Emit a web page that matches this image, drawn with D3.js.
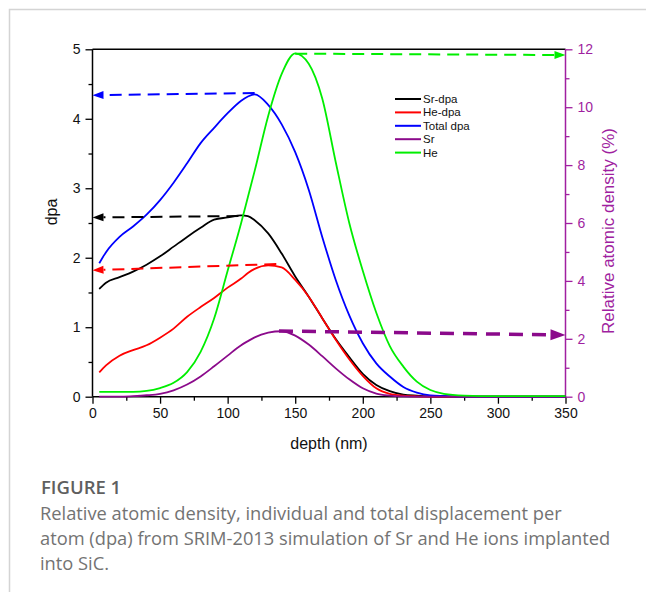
<!DOCTYPE html>
<html>
<head>
<meta charset="utf-8">
<script src="https://cdn.jsdelivr.net/npm/d3@7"></script>
<style>
  html, body { margin: 0; padding: 0; background: #fff; }
  svg { display: block; }
</style>
</head>
<body>
<svg id="chart" width="646" height="592"></svg>
<script>
// ---------- data ----------
const depth = [5,10,20,30,40,50,60,70,80,90,100,110,115,120,130,140,150,160,170,180,190,200,210,220,230,240,250,260,275,300,325,350];
const srDpa  = [1.55,1.64,1.72,1.80,1.90,2.02,2.16,2.30,2.43,2.55,2.58,2.61,2.60,2.54,2.35,2.06,1.73,1.44,1.13,0.83,0.57,0.33,0.17,0.08,0.03,0.015,0.005,0,0,0,0,0];
const heDpa  = [0.35,0.45,0.59,0.67,0.74,0.85,0.98,1.15,1.29,1.42,1.57,1.70,1.78,1.84,1.89,1.86,1.68,1.44,1.13,0.82,0.54,0.30,0.12,0.04,0.015,0.005,0,0,0,0,0,0];
const totDpa = [1.92,2.08,2.30,2.45,2.62,2.83,3.08,3.36,3.65,3.87,4.08,4.26,4.32,4.35,4.20,3.92,3.52,2.98,2.30,1.68,1.17,0.77,0.48,0.29,0.14,0.06,0.02,0.01,0,0,0,0];
const srPct  = [0,0,0,0.02,0.05,0.10,0.22,0.42,0.70,1.05,1.42,1.78,1.92,2.05,2.21,2.26,2.11,1.80,1.40,0.98,0.60,0.29,0.11,0.04,0.01,0,0,0,0,0,0,0];
const hePct  = [0.17,0.17,0.17,0.17,0.20,0.30,0.48,0.85,1.55,2.70,4.35,6.00,6.90,7.80,9.70,11.15,11.86,11.50,10.30,8.10,6.00,4.35,2.90,1.75,1.04,0.52,0.23,0.10,0.04,0.02,0.02,0.02];

const seriesNames = ["Sr-dpa","He-dpa","Total dpa","Sr","He"];
const seriesAxis  = ["left","left","left","right","right"];
const seriesVals  = [srDpa, heDpa, totDpa, srPct, hePct];

// dashed arrows: [fromDepth, fromValue, toDepth, toValue]
const arrowNames = ["Total dpa","Sr-dpa","He-dpa","Sr","He"];
const arrowFrom  = [[120,4.37],[108,2.60],[136,1.91],[138,2.27],[150,11.85]];
const arrowTo    = [[0,4.34],[0,2.58],[0,1.82],[350,2.13],[350,11.80]];

const xTicks = [0,50,100,150,200,250,300,350];
const yLeftTicks = [0,1,2,3,4,5];
const yRightTicks = [0,2,4,6,8,10,12];

// ---------- styles ----------
const colors = {"Sr-dpa":"#000000","He-dpa":"#ff0000","Total dpa":"#0000ff","Sr":"#8b0a8b","He":"#00ee00"};
const rightColor = "#a01fa0";
const svg = d3.select("#chart");

// card border
svg.append("path").attr("d","M9.5,592 L9.5,9.5 L646,9.5").attr("fill","none").attr("stroke","#d4d4d4").attr("stroke-width",1.5);

const L = 92.5, R = 565.5, T = 49.3, B = 396.7;
const x = d3.scaleLinear().domain([0,350]).range([L,R]);
const yL = d3.scaleLinear().domain([0,5]).range([B,T]);
const yR = d3.scaleLinear().domain([0,12]).range([B,T]);

const font = "'Liberation Sans', Arial, sans-serif";

// top frame
svg.append("line").attr("x1",L).attr("x2",R).attr("y1",T).attr("y2",T).attr("stroke","#000").attr("stroke-width",1.5);

// x axis
const gx = svg.append("g").attr("transform",`translate(0,${B})`)
  .call(d3.axisBottom(x).tickValues(xTicks).tickSize(7).tickPadding(4).tickFormat(d3.format("d")));
svg.append("g").attr("transform",`translate(0,${B})`)
  .call(d3.axisBottom(x).tickValues(d3.range(25,350,50)).tickSize(4).tickFormat(""))
  .call(g=>g.select(".domain").remove());
// left axis
const gy = svg.append("g").attr("transform",`translate(${L},0)`)
  .call(d3.axisLeft(yL).tickValues(yLeftTicks).tickSize(7).tickPadding(5).tickFormat(d3.format("d")));
svg.append("g").attr("transform",`translate(${L},0)`)
  .call(d3.axisLeft(yL).tickValues([0.5,1.5,2.5,3.5,4.5]).tickSize(4).tickFormat(""))
  .call(g=>g.select(".domain").remove());
// right axis
const gr = svg.append("g").attr("transform",`translate(${R},0)`)
  .call(d3.axisRight(yR).tickValues(yRightTicks).tickSize(7).tickPadding(5).tickFormat(d3.format("d")));
const grm = svg.append("g").attr("transform",`translate(${R},0)`)
  .call(d3.axisRight(yR).tickValues([1,3,5,7,9,11]).tickSize(4).tickFormat(""))
  .call(g=>g.select(".domain").remove());

svg.selectAll(".domain").attr("stroke-width",1.5);
svg.selectAll(".tick line").attr("stroke-width",1.3);
svg.selectAll(".tick text").attr("font-family",font).attr("font-size",14).attr("fill","#111");
[gx,gy].forEach(g=>g.selectAll(".domain, .tick line").attr("stroke","#000"));
gy.select(".domain").attr("d",`M0,${B}V${T}`);
gx.select(".domain").attr("d",`M${L},0H${R}`);
gr.select(".domain").attr("d",`M0,${B}V${T}`);
gr.selectAll(".domain, .tick line").attr("stroke",rightColor);
grm.selectAll(".tick line").attr("stroke",rightColor);
gr.selectAll(".tick text").attr("fill",rightColor);

// axis titles
svg.append("text").attr("x",(L+R)/2).attr("y",449).attr("text-anchor","middle")
  .attr("font-family",font).attr("font-size",16).attr("fill","#111").text("depth (nm)");
svg.append("text").attr("transform",`translate(57,${(T+B)/2-11}) rotate(-90)`).attr("text-anchor","middle")
  .attr("font-family",font).attr("font-size",16).attr("fill","#111").text("dpa");
svg.append("text").attr("transform",`translate(614,${(T+B)/2+8}) rotate(-90)`).attr("text-anchor","middle")
  .attr("font-family",font).attr("font-size",17).attr("fill",rightColor).text("Relative atomic density (%)");

// curves
seriesNames.forEach((name,i)=>{
  const ys = seriesAxis[i]==="left" ? yL : yR;
  const line = d3.line().x(d=>x(d[0])).y(d=>ys(d[1])).curve(d3.curveMonotoneX);
  const pts = depth.map((d,j)=>[d,seriesVals[i][j]]);
  svg.append("path").attr("d",line(pts)).attr("fill","none")
    .attr("stroke",colors[name]).attr("stroke-width",1.8).attr("stroke-linejoin","round");
});

// dashed arrows
arrowNames.forEach((name,i)=>{
  const ys = seriesAxis[seriesNames.indexOf(name)]==="left" ? yL : yR;
  const x1 = x(arrowFrom[i][0]), y1 = ys(arrowFrom[i][1]);
  const x2 = x(arrowTo[i][0]), y2 = ys(arrowTo[i][1]);
  const big = name==="Sr";
  const hl = big ? 15 : 11, hw = big ? 5.5 : 4;
  const ang = Math.atan2(y2-y1, x2-x1);
  const bx = x2 - hl*Math.cos(ang), by = y2 - hl*Math.sin(ang);
  svg.append("line").attr("x1",x1).attr("y1",y1).attr("x2",bx).attr("y2",by)
    .attr("stroke",colors[name]).attr("stroke-width",big?3.5:2)
    .attr("stroke-dasharray",big?"14,9":"12,7");
  const px = -Math.sin(ang), py = Math.cos(ang);
  svg.append("path").attr("d",`M${x2},${y2}L${bx+px*hw},${by+py*hw}L${bx-px*hw},${by-py*hw}Z`)
    .attr("fill",colors[name]);
});

// legend
const lg = svg.append("g").attr("transform","translate(395,99)");
seriesNames.forEach((name,i)=>{
  const g = lg.append("g").attr("transform",`translate(0,${i*13.4})`);
  g.append("line").attr("x1",0).attr("x2",26).attr("stroke",colors[name]).attr("stroke-width",2);
  g.append("text").attr("x",28).attr("y",4).attr("font-family",font).attr("font-size",11.5).attr("fill","#111").text(name);
});

// caption
const capFont = "'Open Sans', Lato, sans-serif";
svg.append("text").attr("x",41).attr("y",494).attr("font-family",capFont).attr("font-weight",600)
  .attr("font-size",18.5).attr("fill","#5f5f5f").text("FIGURE 1");
const capLines = ["Relative atomic density, individual and total displacement per",
  "atom (dpa) from SRIM-2013 simulation of Sr and He ions implanted",
  "into SiC."];
capLines.forEach((t,i)=>{
  svg.append("text").attr("x",40).attr("y",519.5+i*25).attr("font-family",capFont)
    .attr("font-size",18.3).attr("fill","#737373").text(t);
});
</script>
</body>
</html>
